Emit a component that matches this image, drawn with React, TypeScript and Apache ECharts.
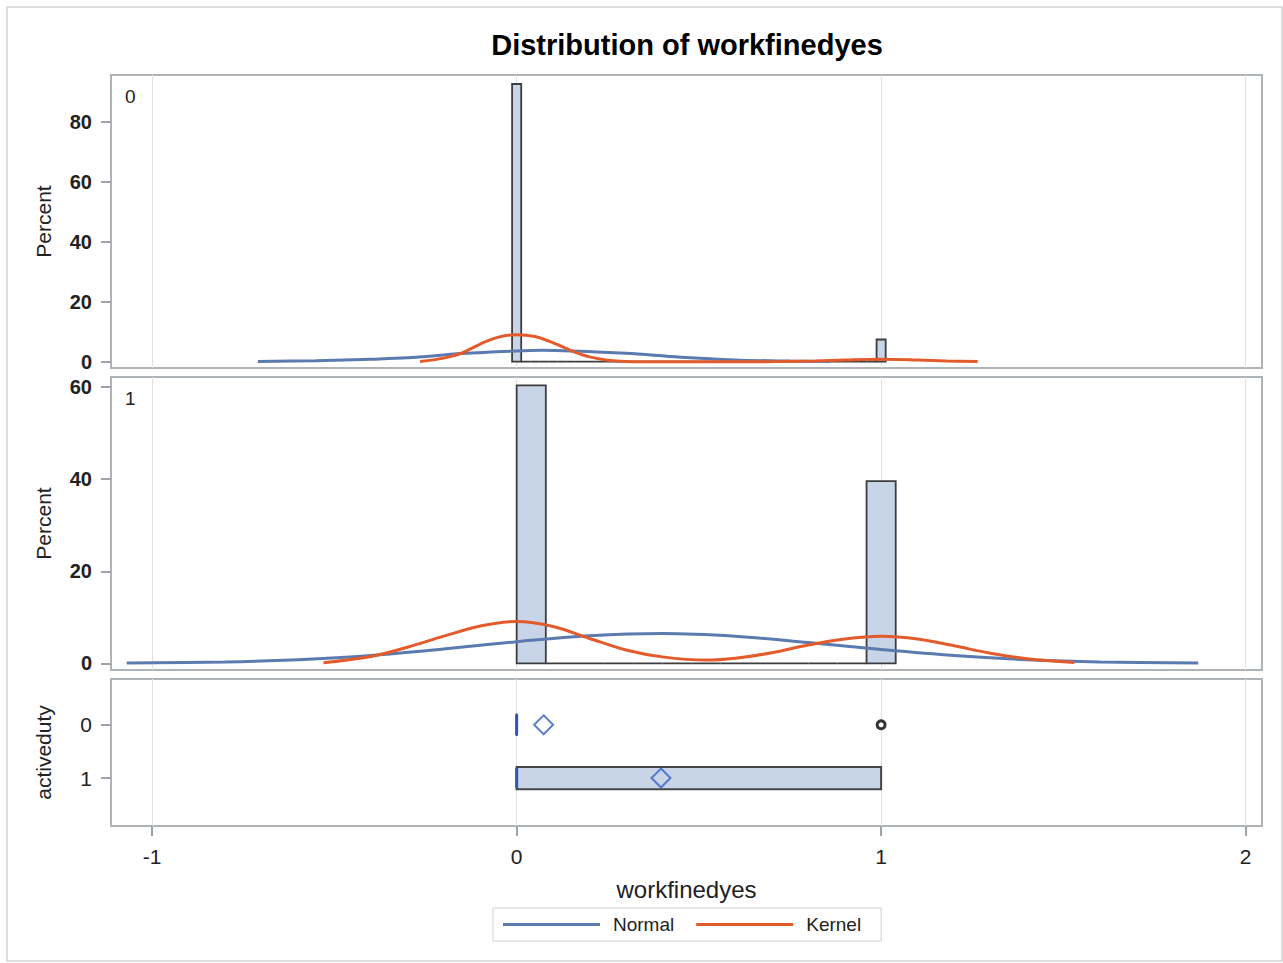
import React, { useEffect, useRef } from "react";
import * as echarts from "echarts";

// ---------- texts ----------
const TITLE = "Distribution of workfinedyes";
const X_NAME = "workfinedyes";
const Y_NAME_HIST = "Percent";
const Y_NAME_BOX = "activeduty";
const PANEL_LABELS = ["0", "1"];
const LEGEND_NAMES = ["Normal", "Kernel"];

// ---------- axes ----------
const X_TICKS = [-1, 0, 1, 2];
const HIST0_TICKS = [0, 20, 40, 60, 80];
const HIST1_TICKS = [0, 20, 40, 60];
const BOX_TICKS = [0, 1];

// ---------- histogram, activeduty = 0 (41 bins of width 0.025) ----------
const hist0Start = -0.0125;
const hist0Width = 0.025;
const hist0Percent = [
  92.6, 0, 0, 0, 0, 0, 0, 0, 0, 0, 0, 0, 0, 0, 0, 0, 0, 0, 0, 0, 0,
  0, 0, 0, 0, 0, 0, 0, 0, 0, 0, 0, 0, 0, 0, 0, 0, 0, 0, 0, 7.4,
];

// ---------- histogram, activeduty = 1 (13 bins of width 0.08) ----------
const hist1Start = 0;
const hist1Width = 0.08;
const hist1Percent = [60.4, 0, 0, 0, 0, 0, 0, 0, 0, 0, 0, 0, 39.6];

// ---------- fitted curves ----------
const normal0X = [-0.71, -0.55, -0.4, -0.3, -0.15, 0, 0.07, 0.15, 0.3, 0.45, 0.6, 0.75, 0.86];
const normal0Y = [0.05, 0.35, 0.85, 1.3, 2.7, 3.6, 3.8, 3.6, 2.8, 1.5, 0.6, 0.2, 0.05];
const kernel0X = [-0.265, -0.2, -0.15, -0.1, -0.05, 0, 0.05, 0.1, 0.15, 0.2, 0.25, 0.3, 0.4, 0.6, 0.72, 0.82, 0.9, 1.0, 1.1, 1.18, 1.265];
const kernel0Y = [0.1, 1.2, 2.9, 5.9, 8.2, 9.0, 8.4, 6.3, 3.7, 1.6, 0.5, 0.1, 0.0, 0.0, 0.05, 0.25, 0.55, 0.8, 0.55, 0.25, 0.1];

const normal1X = [-1.07, -0.8, -0.6, -0.4, -0.2, 0, 0.2, 0.4, 0.6, 0.8, 1.0, 1.2, 1.4, 1.6, 1.87];
const normal1Y = [0.05, 0.3, 0.8, 1.7, 3.1, 4.7, 6.0, 6.5, 5.9, 4.5, 3.0, 1.7, 0.8, 0.3, 0.05];
const kernel1X = [-0.53, -0.4, -0.3, -0.2, -0.1, 0, 0.1, 0.2, 0.3, 0.4, 0.52, 0.6, 0.7, 0.8, 0.9, 1.0, 1.1, 1.2, 1.3, 1.4, 1.53];
const kernel1Y = [0.15, 1.5, 3.5, 5.9, 8.1, 9.1, 8.0, 5.4, 2.9, 1.4, 0.7, 1.1, 2.3, 4.0, 5.3, 5.9, 5.3, 3.8, 2.2, 1.0, 0.2];

// ---------- box plot ----------
const boxCategories = [0, 1];
const boxQ1 = [0, 0];
const boxQ3 = [0, 1];
const boxMedian = [0, 0];
const boxMean = [0.074, 0.396];
const outlierValues = [1];
const outlierCategories = [0];

// ---------- ranges ----------
const X_MIN = -1.113;
const X_MAX = 2.045;

const FONT = "'Liberation Sans', Arial, Helvetica, sans-serif";
const BAR_FILL = "#c8d4e7";
const BAR_EDGE = "#3d3d3d";
const NORMAL_COLOR = "#5b7bb0";
const KERNEL_COLOR = "#e35b2b";
const FRAME = "#aeb3b7";
const TICK = "#9da3a8";

function histData(start: number, width: number, pct: number[]) {
  return pct.map((p, i) => [start + i * width, start + (i + 1) * width, p]);
}

function histRender(params: any, api: any) {
  const a = api.coord([api.value(0), api.value(2)]);
  const b = api.coord([api.value(1), 0]);
  return {
    type: "rect",
    shape: { x: a[0], y: a[1], width: b[0] - a[0], height: b[1] - a[1] },
    style: { fill: BAR_FILL, stroke: BAR_EDGE, lineWidth: 1.8 },
  };
}

function boxRender(params: any, api: any) {
  const c = api.value(0);
  const p1 = api.coord([api.value(1), c]);
  const p3 = api.coord([api.value(2), c]);
  const pm = api.coord([api.value(3), c]);
  const h = Math.abs(api.size([0, 0.42])[1]);
  return {
    type: "group",
    children: [
      {
        type: "rect",
        shape: { x: p1[0], y: p1[1] - h / 2, width: p3[0] - p1[0], height: h },
        style: { fill: BAR_FILL, stroke: "#454545", lineWidth: 2 },
      },
      {
        type: "line",
        shape: { x1: pm[0], y1: pm[1] - h / 2 + 1, x2: pm[0], y2: pm[1] + h / 2 - 1 },
        style: { stroke: "#2f55b5", lineWidth: 3 },
      },
    ],
  };
}

function curve(name: string, xs: number[], ys: number[], color: string, gi: number) {
  return {
    type: "line",
    name,
    xAxisIndex: gi,
    yAxisIndex: gi,
    data: xs.map((x, i) => [x, ys[i]]),
    smooth: 0.35,
    showSymbol: false,
    symbol: "none",
    lineStyle: { color, width: 3 },
    itemStyle: { color },
    z: 3,
  };
}

export default function App() {
  const ref = useRef<HTMLDivElement>(null);

  useEffect(() => {
    const chart = echarts.init(ref.current!, null, { renderer: "svg" });

    const gridBase = {
      show: true,
      borderColor: FRAME,
      borderWidth: 2,
      backgroundColor: "#ffffff",
      containLabel: false,
      outerBoundsMode: "none",
    };

    const xAxis = (gi: number, show: boolean) => ({
      type: "value",
      gridIndex: gi,
      min: X_MIN,
      max: X_MAX,
      position: "bottom",
      axisLine: { show: false, onZero: false },
      axisTick: {
        show,
        customValues: X_TICKS,
        length: 10,
        lineStyle: { color: TICK, width: 2 },
      },
      axisLabel: {
        show,
        customValues: X_TICKS,
        margin: 20,
        fontSize: 21,
        color: "#222",
        fontFamily: FONT,
      },
      splitLine: { show: true, lineStyle: { color: "#e2e2e2", width: 1 } },
      name: show ? X_NAME : "",
      nameLocation: "middle",
      nameGap: 51,
      nameTextStyle: { fontSize: 24, color: "#222", fontFamily: FONT },
    });

    const yAxis = (gi: number, min: number, max: number, ticks: number[], name: string, bold: boolean, inverse = false) => ({
      type: "value",
      gridIndex: gi,
      min,
      max,
      inverse,
      position: "left",
      axisLine: { show: false, onZero: false },
      axisTick: {
        show: true,
        customValues: ticks,
        length: 10,
        lineStyle: { color: TICK, width: 2 },
      },
      axisLabel: {
        customValues: ticks,
        margin: 19,
        fontSize: bold ? 20 : 21,
        fontWeight: bold ? "bold" : "normal",
        color: "#222",
        fontFamily: FONT,
      },
      splitLine: { show: false },
      name,
      nameLocation: "middle",
      nameGap: 57,
      nameTextStyle: { fontSize: 21, color: "#222", fontFamily: FONT },
    });

    const option: any = {
      animation: false,
      backgroundColor: "#ffffff",
      textStyle: { fontFamily: FONT },
      title: {
        text: TITLE,
        left: 687,
        top: 30,
        padding: 0,
        textAlign: "center",
        textStyle: { fontSize: 29, fontWeight: "bold", color: "#000", fontFamily: FONT },
      },
      legend: {
        data: LEGEND_NAMES,
        left: 493,
        top: 908,
        orient: "horizontal",
        icon: "rect",
        itemWidth: 97,
        itemHeight: 3,
        itemGap: 22,
        padding: [7, 20, 7, 10],
        borderColor: "#cfcfcf",
        borderWidth: 1,
        selectedMode: false,
        textStyle: { fontSize: 19, color: "#222", fontFamily: FONT, padding: [0, 0, 0, 8] },
      },
      grid: [
        { ...gridBase, left: 111, top: 75, width: 1151, height: 293 },
        { ...gridBase, left: 111, top: 377, width: 1151, height: 293 },
        { ...gridBase, left: 111, top: 679, width: 1151, height: 147 },
      ],
      xAxis: [xAxis(0, false), xAxis(1, false), xAxis(2, true)],
      yAxis: [
        yAxis(0, -2.1, 95.6, HIST0_TICKS, Y_NAME_HIST, true),
        yAxis(1, -1.45, 62.2, HIST1_TICKS, Y_NAME_HIST, true),
        yAxis(2, -0.86, 1.9, BOX_TICKS, Y_NAME_BOX, false, true),
      ],
      graphic: [
        {
          type: "rect",
          shape: { x: 7, y: 7, width: 1275, height: 954 },
          style: { fill: "none", stroke: "#d4d4d4", lineWidth: 1.5 },
          silent: true,
          z: -10,
        },
        {
          type: "text",
          x: 125,
          y: 87,
          style: { text: PANEL_LABELS[0], fontSize: 19, fill: "#222", fontFamily: FONT },
          z: 10,
        },
        {
          type: "text",
          x: 125,
          y: 389,
          style: { text: PANEL_LABELS[1], fontSize: 19, fill: "#222", fontFamily: FONT },
          z: 10,
        },
      ],
      series: [
        {
          type: "custom",
          name: "hist0",
          xAxisIndex: 0,
          yAxisIndex: 0,
          data: histData(hist0Start, hist0Width, hist0Percent),
          encode: { x: [0, 1], y: 2 },
          renderItem: histRender,
          z: 2,
        },
        {
          type: "custom",
          name: "hist1",
          xAxisIndex: 1,
          yAxisIndex: 1,
          data: histData(hist1Start, hist1Width, hist1Percent),
          encode: { x: [0, 1], y: 2 },
          renderItem: histRender,
          z: 2,
        },
        curve(LEGEND_NAMES[0], normal0X, normal0Y, NORMAL_COLOR, 0),
        curve(LEGEND_NAMES[1], kernel0X, kernel0Y, KERNEL_COLOR, 0),
        curve(LEGEND_NAMES[0], normal1X, normal1Y, NORMAL_COLOR, 1),
        curve(LEGEND_NAMES[1], kernel1X, kernel1Y, KERNEL_COLOR, 1),
        {
          type: "custom",
          name: "box",
          xAxisIndex: 2,
          yAxisIndex: 2,
          data: boxCategories.map((c, i) => [c, boxQ1[i], boxQ3[i], boxMedian[i]]),
          encode: { x: [1, 2, 3], y: 0 },
          renderItem: boxRender,
          z: 2,
        },
        {
          type: "scatter",
          name: "mean",
          xAxisIndex: 2,
          yAxisIndex: 2,
          data: boxMean.map((m, i) => [m, boxCategories[i]]),
          symbol: "diamond",
          symbolSize: 19,
          itemStyle: { color: "rgba(255,255,255,0)", borderColor: "#3560c8", borderWidth: 2 },
          z: 4,
        },
        {
          type: "scatter",
          name: "outlier",
          xAxisIndex: 2,
          yAxisIndex: 2,
          data: outlierValues.map((v, i) => [v, outlierCategories[i]]),
          symbol: "circle",
          symbolSize: 8,
          itemStyle: { color: "#ffffff", borderColor: "#000000", borderWidth: 3 },
          z: 4,
        },
      ],
    };

    chart.setOption(option);
    return () => chart.dispose();
  }, []);

  return (
    <div
      ref={ref}
      style={{ position: "absolute", left: 0, top: 0, width: 1283, height: 963 }}
    />
  );
}
